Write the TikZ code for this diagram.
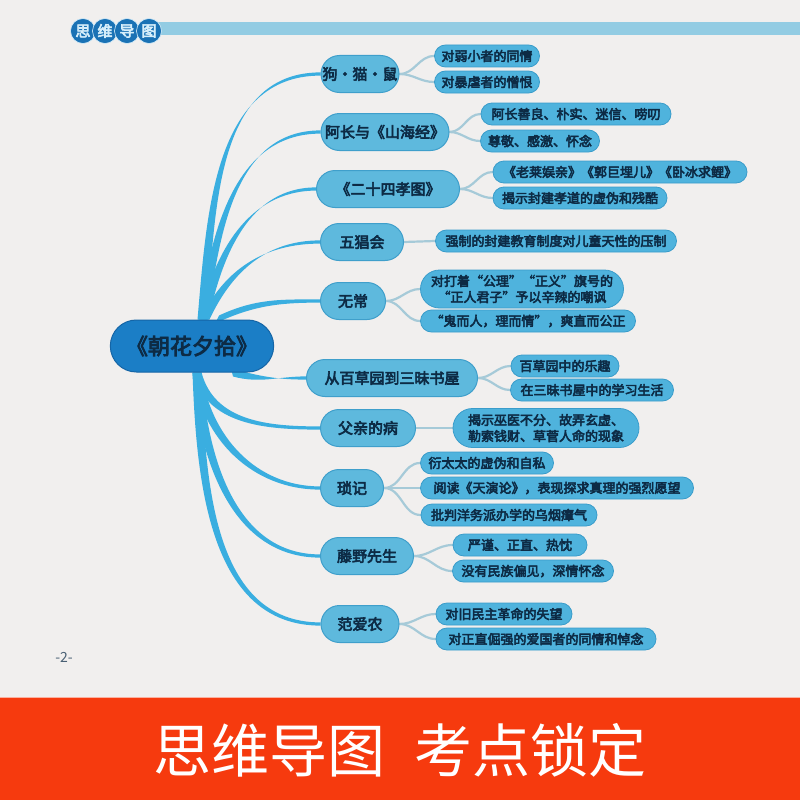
\documentclass[tikz,border=0pt]{standalone}
\usepackage{fontspec}
\newfontfamily\cjk{Noto Sans CJK SC}
\newfontfamily\cjkb{Noto Sans CJK SC}[FakeBold=4]
\usetikzlibrary{shapes.misc}
\definecolor{pagebg}{HTML}{F1EFEE}
\definecolor{barblue}{HTML}{93CCE3}
\definecolor{hcircle}{HTML}{1A72B5}
\definecolor{hctext}{HTML}{D6EEFA}
\definecolor{cfill}{HTML}{1B7EC6}
\definecolor{cdraw}{HTML}{1565A6}
\definecolor{lonefill}{HTML}{5EB9DD}
\definecolor{lonedraw}{HTML}{3F9FCB}
\definecolor{ltwofill}{HTML}{4FB3DD}
\definecolor{ltwodraw}{HTML}{3A9CCA}
\definecolor{txt}{HTML}{0D2B45}
\definecolor{branch}{HTML}{3AAEE0}
\definecolor{subline}{HTML}{A6CAD8}
\definecolor{banner}{HTML}{F63A0E}
\pgfdeclarelayer{bg}
\pgfsetlayers{bg,main}
\tikzset{
  lone/.style={rounded rectangle, fill=lonefill, draw=lonedraw, line width=1pt,
    minimum height=37pt, text=txt, font=\cjkb\fontsize{15}{18}\selectfont, inner xsep=6pt},
  ltwo/.style={rounded rectangle, fill=ltwofill, draw=ltwodraw, line width=0.8pt,
    minimum height=22pt, text=txt, font=\cjkb\fontsize{13}{16}\selectfont,
    inner xsep=6pt, inner ysep=2pt, align=center},
  central/.style={rounded rectangle, fill=cfill, draw=cdraw, line width=1pt,
    minimum height=52pt, minimum width=170pt, text=txt, font=\cjkb\fontsize{22}{24}\selectfont},
  hcirc/.style={circle, fill=hcircle, draw=hctext, line width=0.6pt, minimum size=25pt, inner sep=0pt,
    text=hctext, font=\cjkb\fontsize{15}{16}\selectfont},
  subbranch/.style={draw=subline, line width=2.2pt, line cap=round},
}
% tapered main branch: #1 start coordinate, #2 out angle, #3 target node, #4,#5 half-width shift
\newcommand{\taperbranch}[5]{%
  \fill[branch] ([shift={(#4,#5)}]#1) to[out=#2,in=180] ([yshift=1.6pt]#3.west)
    -- ([yshift=-1.6pt]#3.west) to[out=180,in=#2] ([shift={({-1*(#4)},{-1*(#5)})}]#1) -- cycle;}
\begin{document}
\begin{tikzpicture}[x=1pt,y=-1pt]
\useasboundingbox (0,0) rectangle (800,800);
\begin{pgfonlayer}{bg}
\fill[pagebg] (0,0) rectangle (800,697);
\fill[barblue] (150,22) rectangle (800,35);
\end{pgfonlayer}
% header
\node[hcirc] (h1) at (83,31) {思};
\node[hcirc] (h2) at (105,31) {维};
\node[hcirc] (h3) at (127,31) {导};
\node[hcirc] (h4) at (149,31) {图};
% central
\node[central] (c) at (192,346) {《朝花夕拾》};
% level 1
\node[lone, minimum width=90pt]  (b1) at (360,74) {狗·猫·鼠};
\node[lone, minimum width=140pt] (b2) at (385,132) {阿长与《山海经》};
\node[lone, minimum width=155pt] (b3) at (388,189) {《二十四孝图》};
\node[lone, minimum width=95pt]  (b4) at (362,242) {五猖会};
\node[lone, minimum width=77pt]  (b5) at (353,301) {无常};
\node[lone, minimum width=183pt] (b6) at (392,378) {从百草园到三昧书屋};
\node[lone, minimum width=107pt] (b7) at (368,428) {父亲的病};
\node[lone, minimum width=75pt]  (b8) at (352,488) {琐记};
\node[lone, minimum width=105pt] (b9) at (367,556) {藤野先生};
\node[lone, minimum width=90pt]  (b10) at (360,624) {范爱农};
% level 2
\node[ltwo, minimum width=117pt] (l1a) at (487,56) {对弱小者的同情};
\node[ltwo, minimum width=117pt] (l1b) at (487,82) {对暴虐者的憎恨};
\node[ltwo, minimum width=202pt] (l2a) at (576,114) {阿长善良、朴实、迷信、唠叨};
\node[ltwo, minimum width=131pt] (l2b) at (540,141) {尊敬、感激、怀念};
\node[ltwo, minimum width=266pt] (l3a) at (620,172) {《老莱娱亲》《郭巨埋儿》《卧冰求鲤》};
\node[ltwo, minimum width=186pt] (l3b) at (580,198) {揭示封建孝道的虚伪和残酷};
\node[ltwo, minimum width=253pt] (l4a) at (556,241) {强制的封建教育制度对儿童天性的压制};
\node[ltwo, minimum width=215pt, minimum height=38pt] (l5a) at (522,289) {对打着“公理”“正义”旗号的\\“正人君子”予以辛辣的嘲讽};
\node[ltwo, minimum width=227pt] (l5b) at (528,321) {“鬼而人，理而情”，爽直而公正};
\node[ltwo, minimum width=120pt] (l6a) at (565,366) {百草园中的乐趣};
\node[ltwo, minimum width=175pt] (l6b) at (592,390) {在三昧书屋中的学习生活};
\node[ltwo, minimum width=198pt, minimum height=39pt] (l7a) at (546,428) {揭示巫医不分、故弄玄虚、\\勒索钱财、草菅人命的现象};
\node[ltwo, minimum width=145pt] (l8a) at (487,463) {衍太太的虚伪和自私};
\node[ltwo, minimum width=285pt] (l8b) at (557,488) {阅读《天演论》，表现探求真理的强烈愿望};
\node[ltwo, minimum width=188pt] (l8c) at (509,515) {批判洋务派办学的乌烟瘴气};
\node[ltwo, minimum width=146pt] (l9a) at (520,545) {严谨、正直、热忱};
\node[ltwo, minimum width=173pt] (l9b) at (533,571) {没有民族偏见，深情怀念};
\node[ltwo, minimum width=148pt] (l10a) at (504,614) {对旧民主革命的失望};
\node[ltwo, minimum width=232pt] (l10b) at (546,639) {对正直倔强的爱国者的同情和悼念};
% branch start points on the central node
\coordinate (s1) at ([xshift=10pt]c.north);
\coordinate (s2) at ([xshift=11pt]c.north);
\coordinate (s3) at ([xshift=12pt]c.north);
\coordinate (s4) at ([xshift=13pt]c.north);
\coordinate (s5) at ([xshift=25pt]c.north);
\coordinate (s6) at ([xshift=40pt]c.south);
\coordinate (s7) at ([xshift=5pt]c.south);
% connectors
\begin{pgfonlayer}{bg}
\taperbranch{s1}{85}{b1}{4.5}{0}
\taperbranch{s2}{82}{b2}{4.5}{0}
\taperbranch{s3}{78}{b3}{4.5}{0}
\taperbranch{s4}{65}{b4}{4.5}{0}
\taperbranch{s5}{25}{b5}{2}{-4}
\taperbranch{s6}{-15}{b6}{1}{4}
\taperbranch{s7}{-75}{b7}{4.5}{0}
\taperbranch{s7}{-82}{b8}{4.5}{0}
\taperbranch{s7}{-86}{b9}{4.5}{0}
\taperbranch{s7}{-88}{b10}{4.5}{0}
\draw[subbranch] (b1.east) to[out=0,in=180] (l1a.west);
\draw[subbranch] (b1.east) to[out=0,in=180] (l1b.west);
\draw[subbranch] (b2.east) to[out=0,in=180] (l2a.west);
\draw[subbranch] (b2.east) to[out=0,in=180] (l2b.west);
\draw[subbranch] (b3.east) to[out=0,in=180] (l3a.west);
\draw[subbranch] (b3.east) to[out=0,in=180] (l3b.west);
\draw[subbranch] (b4.east) -- (l4a.west);
\draw[subbranch] (b5.east) to[out=0,in=180] (l5a.west);
\draw[subbranch] (b5.east) to[out=0,in=180] (l5b.west);
\draw[subbranch] (b6.east) to[out=0,in=180] (l6a.west);
\draw[subbranch] (b6.east) to[out=0,in=180] (l6b.west);
\draw[subbranch] (b7.east) -- (l7a.west);
\draw[subbranch] (b8.east) to[out=0,in=180] (l8a.west);
\draw[subbranch] (b8.east) -- (l8b.west);
\draw[subbranch] (b8.east) to[out=0,in=180] (l8c.west);
\draw[subbranch] (b9.east) to[out=0,in=180] (l9a.west);
\draw[subbranch] (b9.east) to[out=0,in=180] (l9b.west);
\draw[subbranch] (b10.east) to[out=0,in=180] (l10a.west);
\draw[subbranch] (b10.east) to[out=0,in=180] (l10b.west);
\end{pgfonlayer}
% page number
\node[text=txt!75, font=\cjk\fontsize{14}{16}\selectfont] (pg) at (64,657) {-2-};
% banner
\fill[banner] (0,697) rectangle (800,800);
\draw[banner!40!white, line width=1pt] (0,697.5) -- (800,697.5);
\node[text=white, font=\cjk\fontsize{58}{60}\selectfont] (ban) at (400,750) {思维导图\hspace{0.5em}考点锁定};
\end{tikzpicture}
\end{document}
